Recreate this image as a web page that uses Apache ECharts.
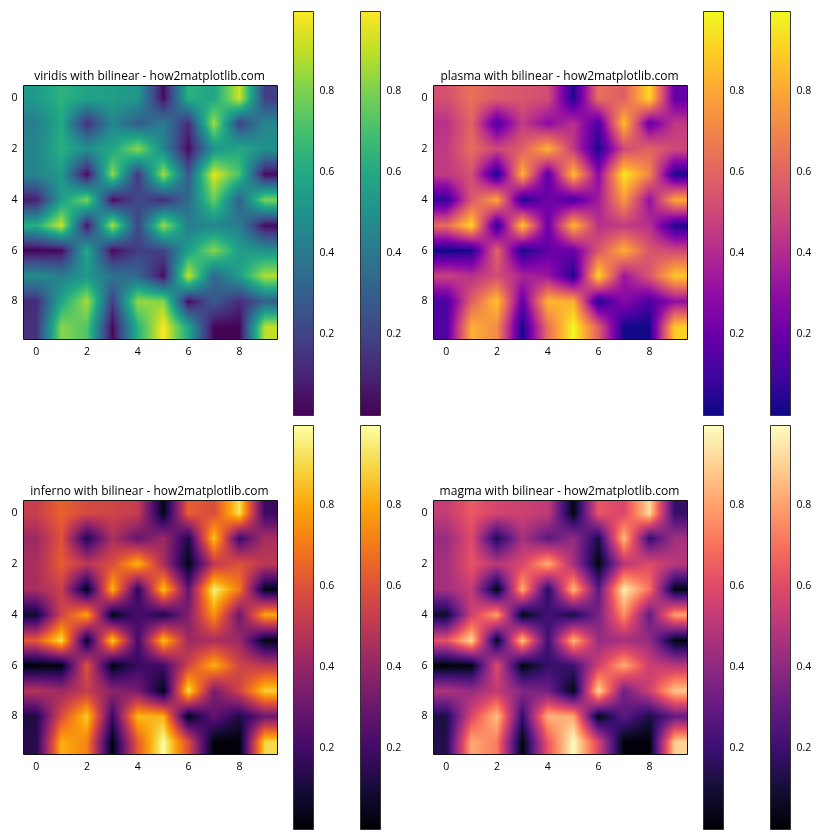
<!DOCTYPE html>
<html>
<head>
<meta charset="utf-8">
<title>colormaps with bilinear</title>
<script src="https://cdn.jsdelivr.net/npm/echarts@6/dist/echarts.min.js"></script>
<style>
  html, body { margin: 0; padding: 0; background: #fff; }
  #chart { width: 840px; height: 840px; }
</style>
</head>
<body>
<div id="chart"></div>
<script>
// image rows, top to bottom
const row0 = [0.53, 0.64, 0.57, 0.55, 0.52, 0.03, 0.63, 0.58, 0.92, 0.18];
const row1 = [0.42, 0.60, 0.13, 0.46, 0.28, 0.42, 0.12, 0.86, 0.18, 0.45];
const row2 = [0.45, 0.63, 0.50, 0.58, 0.83, 0.45, 0.03, 0.50, 0.60, 0.50];
const row3 = [0.45, 0.53, 0.02, 0.83, 0.15, 0.86, 0.28, 0.96, 0.70, 0.03];
const row4 = [0.08, 0.55, 0.80, 0.03, 0.22, 0.12, 0.35, 0.76, 0.30, 0.80];
const row5 = [0.62, 0.92, 0.05, 0.88, 0.20, 0.85, 0.42, 0.45, 0.42, 0.03];
const row6 = [0.005, 0.02, 0.60, 0.02, 0.18, 0.20, 0.55, 0.82, 0.55, 0.50];
const row7 = [0.48, 0.42, 0.52, 0.38, 0.33, 0.03, 0.92, 0.33, 0.55, 0.88];
const row8 = [0.12, 0.58, 0.87, 0.18, 0.84, 0.82, 0.03, 0.28, 0.12, 0.30];
const row9 = [0.14, 0.82, 0.72, 0.02, 0.63, 0.995, 0.58, 0.01, 0.01, 0.90];
const heatRows = [row0, row1, row2, row3, row4, row5, row6, row7, row8, row9];

const axisTicks = [0, 2, 4, 6, 8];
const colorbarTicks = [0.2, 0.4, 0.6, 0.8];
const panelNames = ["viridis", "plasma", "inferno", "magma"];

const viridis = ["#440154", "#482475", "#414487", "#355f8d", "#2a788e", "#21918c", "#22a884", "#44bf70", "#7ad151", "#bddf26", "#fde725"];
const plasma = ["#0d0887", "#41049d", "#6a00a8", "#8f0da4", "#b12a90", "#cc4778", "#e16462", "#f1844b", "#fca636", "#fcce25", "#f0f921"];
const inferno = ["#000004", "#160b39", "#420a68", "#6a176e", "#932667", "#bc3754", "#dd513a", "#f37819", "#fca50a", "#f6d746", "#fcffa4"];
const magma = ["#000004", "#140e36", "#3b0f70", "#641a80", "#8c2981", "#b73779", "#de4968", "#f7705c", "#fe9f6d", "#fecf92", "#fcfdbf"];
const colormaps = { viridis, plasma, inferno, magma };

const allValues = heatRows.flat();
const vmin = 0;
const vmax = Math.max(...allValues);
const heatData = heatRows.flatMap((row, y) => row.map((v, x) => [x, y, v]));

const FONT = '"Open Sans", "Noto Sans", sans-serif';
const TEXT = "#000";

function hexToRgb(hex) {
  return [1, 3, 5].map((i) => parseInt(hex.slice(i, i + 2), 16));
}

function makeLut(stops) {
  const rgb = stops.map(hexToRgb);
  return (t) => {
    const p = Math.min(Math.max(t, 0), 1) * (rgb.length - 1);
    const i = Math.min(Math.floor(p), rgb.length - 2);
    const f = p - i;
    return [0, 1, 2].map((c) => rgb[i][c] + (rgb[i + 1][c] - rgb[i][c]) * f);
  };
}

// imshow(interpolation="bilinear"): interpolate the values, then colour them
function sampleHeat(x, y) {
  const cx = Math.min(Math.max(x, 0), 9);
  const cy = Math.min(Math.max(y, 0), 9);
  const x0 = Math.min(Math.floor(cx), 8);
  const y0 = Math.min(Math.floor(cy), 8);
  const fx = cx - x0;
  const fy = cy - y0;
  const top = heatRows[y0][x0] * (1 - fx) + heatRows[y0][x0 + 1] * fx;
  const bottom = heatRows[y0 + 1][x0] * (1 - fx) + heatRows[y0 + 1][x0 + 1] * fx;
  return top * (1 - fy) + bottom * fy;
}

function heatRenderer(name) {
  const lut = makeLut(colormaps[name]);
  return (params, api) => {
    const col = api.value(0);
    const row = api.value(1);
    const a = api.coord([col - 0.5, row - 0.5]);
    const b = api.coord([col + 0.5, row + 0.5]);
    const x = Math.round(a[0]);
    const y = Math.round(a[1]);
    const w = Math.round(b[0]) - x;
    const h = Math.round(b[1]) - y;
    const canvas = document.createElement("canvas");
    canvas.width = w;
    canvas.height = h;
    const ctx = canvas.getContext("2d");
    const img = ctx.createImageData(w, h);
    for (let py = 0; py < h; py++) {
      for (let px = 0; px < w; px++) {
        const v = sampleHeat(col - 0.5 + (px + 0.5) / w, row - 0.5 + (py + 0.5) / h);
        const c = lut((v - vmin) / (vmax - vmin));
        const o = (py * w + px) * 4;
        img.data[o] = c[0];
        img.data[o + 1] = c[1];
        img.data[o + 2] = c[2];
        img.data[o + 3] = 255;
      }
    }
    ctx.putImageData(img, 0, 0);
    return { type: "image", style: { image: canvas, x, y, width: w, height: h } };
  };
}

function colorbarRenderer(name) {
  const stops = colormaps[name];
  return (params, api) => {
    const a = api.coord([0, api.value(1)]);
    const b = api.coord([1, api.value(0)]);
    return {
      type: "rect",
      shape: { x: a[0], y: a[1], width: b[0] - a[0], height: b[1] - a[1] },
      style: {
        fill: new echarts.graphic.LinearGradient(0, 1, 0, 0,
          stops.map((color, i) => ({ offset: i / (stops.length - 1), color }))),
      },
    };
  };
}

const tickLine = { show: true, length: 3.5, lineStyle: { color: TEXT, width: 1 } };
const option = { animation: false, backgroundColor: "#fff", title: [], grid: [], xAxis: [], yAxis: [], series: [] };

function addPanel(name, left, top, cb1, cb2, cbTop) {
  const gridIndex = option.grid.length;
  option.title.push({
    text: `${name} with bilinear - how2matplotlib.com`,
    left: left + 126,
    top: top - 15,
    padding: 0,
    textAlign: "center",
    textStyle: { fontFamily: FONT, fontSize: 12, fontWeight: "normal", color: TEXT },
  });
  option.grid.push({ show: true, z: 5, left, top, width: 254, height: 254, borderColor: "#111", borderWidth: 1, backgroundColor: "transparent" });
  option.xAxis.push({
    type: "value", gridIndex, min: -0.5, max: 9.5, position: "bottom",
    axisLine: { show: false }, splitLine: { show: false },
    axisTick: { ...tickLine, customValues: axisTicks },
    axisLabel: { customValues: axisTicks, margin: 7, fontFamily: FONT, fontSize: 10.5, color: TEXT },
  });
  option.yAxis.push({
    type: "value", gridIndex, min: -0.5, max: 9.5, inverse: true, position: "left",
    axisLine: { show: false }, splitLine: { show: false },
    axisTick: { ...tickLine, customValues: axisTicks },
    axisLabel: { customValues: axisTicks, margin: 6, fontFamily: FONT, fontSize: 10.5, color: TEXT },
  });
  option.series.push({
    type: "custom", xAxisIndex: gridIndex, yAxisIndex: gridIndex, silent: true, clip: false,
    encode: { x: 0, y: 1 }, data: heatData, renderItem: heatRenderer(name),
  });

  [cb1, cb2].forEach((cbLeft) => {
    const idx = option.grid.length;
    option.grid.push({ show: true, z: 5, left: cbLeft, top: cbTop, width: 20, height: 404, borderColor: "#333", borderWidth: 1, backgroundColor: "transparent" });
    option.xAxis.push({ type: "value", gridIndex: idx, min: 0, max: 1, show: false });
    option.yAxis.push({
      type: "value", gridIndex: idx, min: vmin, max: vmax, position: "right",
      axisLine: { show: false }, splitLine: { show: false },
      axisTick: { ...tickLine, customValues: colorbarTicks },
      axisLabel: { customValues: colorbarTicks, margin: 6, fontFamily: FONT, fontSize: 10.5, color: TEXT, formatter: (v) => v.toFixed(1) },
    });
    option.series.push({
      type: "custom", xAxisIndex: idx, yAxisIndex: idx, silent: true, clip: false,
      encode: { y: [0, 1] }, data: [[vmin, vmax]], renderItem: colorbarRenderer(name),
    });
  });
}

addPanel(panelNames[0], 23.5, 85.5, 293.5, 360.5, 11.5);
addPanel(panelNames[1], 433.5, 85.5, 703.5, 770.5, 11.5);
addPanel(panelNames[2], 23.5, 500.5, 293.5, 360.5, 425.5);
addPanel(panelNames[3], 433.5, 500.5, 703.5, 770.5, 425.5);

const chart = echarts.init(document.getElementById("chart"), null, { renderer: "canvas" });
chart.setOption(option);
</script>
</body>
</html>
